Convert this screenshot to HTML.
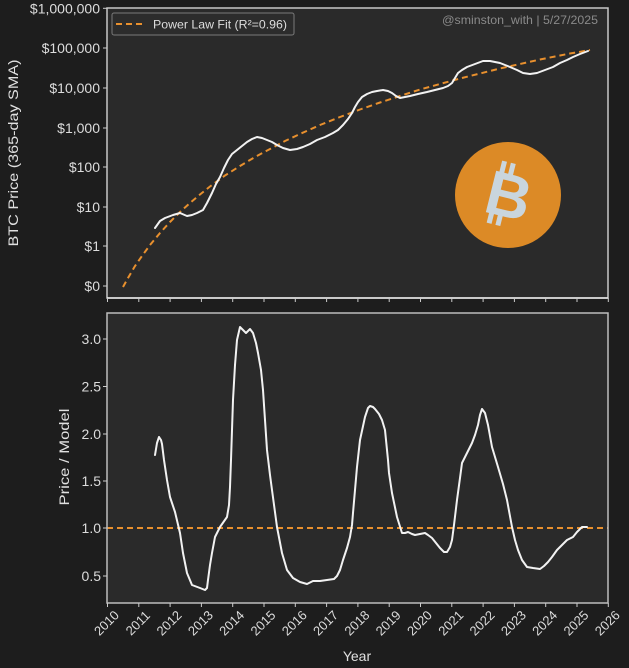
<!DOCTYPE html>
<html>
<head>
<meta charset="utf-8">
<style>
html,body{margin:0;padding:0;background:#1d1d1d;}
svg{display:block;}
text{font-family:"Liberation Sans",sans-serif;}
</style>
</head>
<body>
<svg width="629" height="668" viewBox="0 0 629 668" xmlns="http://www.w3.org/2000/svg">
<rect x="0" y="0" width="629" height="668" fill="#1d1d1d"/>

<!-- ===== TOP PANEL ===== -->
<rect x="107" y="8" width="501" height="290" fill="#2a2a2a"/>

<!-- power law fit -->
<polyline fill="none" stroke="#e8902e" stroke-width="2" stroke-dasharray="6,4"
points="123,287 128,278 135,266 142,256 150,245 160,233 170,222 180,212 190,203 200,194.5 210,186.5 225,175.5 240,166 255,157 270,149 285,141 300,134 320,125 340,117 360,109.5 380,102.5 400,96 420,89.5 440,84 460,78.5 480,73.5 500,68.5 520,64 540,59.5 555,56.5 570,53.5 580,51.8 590,50"/>

<!-- price -->
<polyline fill="none" stroke="#f2f2f2" stroke-width="2" stroke-linejoin="round" stroke-linecap="round"
points="155,228 160,221 165,218 173,215 180,213 187,216 192,215 197,213 203,210 207,203 212,193 216,184 220,177 224,168 228,160 232,154 237,150 242,146 247,142 252,139 257,137 262,138 267,140 272,142 277,145 283,148 290,150 297,149 303,147 310,144 317,140 325,137 333,133 338,130 343,125 348,119 352,113 355,107 358,102 362,97 367,94 372,92 377,91 383,90 388,91 392,93 396,96 400,98 405,97 410,96 418,94 427,92 435,90 443,88 448,86 452,83 455,78 458,73 462,70 467,67 475,64 483,61 490,61 500,63 505,65 510,67 517,70 523,73 530,74 537,73 545,70 553,67 560,63 567,60 573,57 580,54 588,51"/>

<!-- bitcoin logo -->
<circle cx="508" cy="195" r="53" fill="#dc8a26"/>
<g transform="rotate(14 508 195)" fill="#c9d5dd">
  <rect x="494" y="163" width="5" height="12"/>
  <rect x="503" y="163" width="5" height="12"/>
  <rect x="494" y="215" width="5" height="12"/>
  <rect x="503" y="215" width="5" height="12"/>
  <text x="509" y="217" font-size="62" font-weight="bold" text-anchor="middle" fill="#c9d5dd">B</text>
</g>

<!-- legend -->
<rect x="112" y="13" width="182" height="22" rx="2" fill="#2c2c2c" stroke="#7a7a7a" stroke-width="1"/>
<line x1="116" y1="24" x2="146" y2="24" stroke="#e8902e" stroke-width="2" stroke-dasharray="6,4"/>
<text x="153" y="28.5" font-size="12" fill="#dddddd" textLength="134" lengthAdjust="spacingAndGlyphs">Power Law Fit (R²=0.96)</text>

<!-- watermark -->
<text x="598" y="24" font-size="12" fill="#8a8a8a" text-anchor="end" textLength="156" lengthAdjust="spacingAndGlyphs">@sminston_with | 5/27/2025</text>

<!-- frame -->
<rect x="107" y="8" width="501" height="290" fill="none" stroke="#c8c8c8" stroke-width="1.5"/>
<line x1="107" y1="298" x2="608" y2="298" stroke="#e6e6e6" stroke-width="1.5"/>

<!-- top y ticks -->
<g stroke="#cccccc" stroke-width="1">
<line x1="103" y1="8.3" x2="107" y2="8.3"/>
<line x1="103" y1="48" x2="107" y2="48"/>
<line x1="103" y1="88" x2="107" y2="88"/>
<line x1="103" y1="128" x2="107" y2="128"/>
<line x1="103" y1="167" x2="107" y2="167"/>
<line x1="103" y1="207" x2="107" y2="207"/>
<line x1="103" y1="246" x2="107" y2="246"/>
<line x1="103" y1="286" x2="107" y2="286"/>
</g>
<g font-size="14" fill="#dcdcdc" text-anchor="end">
<text x="100" y="13.3">$1,000,000</text>
<text x="100" y="53">$100,000</text>
<text x="100" y="93">$10,000</text>
<text x="100" y="133">$1,000</text>
<text x="100" y="172">$100</text>
<text x="100" y="212">$10</text>
<text x="100" y="251">$1</text>
<text x="100" y="291">$0</text>
</g>
<!-- top x ticks -->
<g stroke="#cccccc" stroke-width="1">
<line x1="107.5" y1="298" x2="107.5" y2="302"/>
<line x1="138.8" y1="298" x2="138.8" y2="302"/>
<line x1="170.1" y1="298" x2="170.1" y2="302"/>
<line x1="201.4" y1="298" x2="201.4" y2="302"/>
<line x1="232.7" y1="298" x2="232.7" y2="302"/>
<line x1="264.0" y1="298" x2="264.0" y2="302"/>
<line x1="295.3" y1="298" x2="295.3" y2="302"/>
<line x1="326.6" y1="298" x2="326.6" y2="302"/>
<line x1="357.9" y1="298" x2="357.9" y2="302"/>
<line x1="389.2" y1="298" x2="389.2" y2="302"/>
<line x1="420.5" y1="298" x2="420.5" y2="302"/>
<line x1="451.8" y1="298" x2="451.8" y2="302"/>
<line x1="483.1" y1="298" x2="483.1" y2="302"/>
<line x1="514.4" y1="298" x2="514.4" y2="302"/>
<line x1="545.7" y1="298" x2="545.7" y2="302"/>
<line x1="577.0" y1="298" x2="577.0" y2="302"/>
<line x1="608.3" y1="298" x2="608.3" y2="302"/>
</g>

<text transform="translate(18 153) rotate(-90)" font-size="14" fill="#e0e0e0" text-anchor="middle" textLength="187" lengthAdjust="spacingAndGlyphs">BTC Price (365-day SMA)</text>

<!-- ===== BOTTOM PANEL ===== -->
<rect x="107" y="313" width="501" height="290" fill="#2a2a2a"/>

<!-- 1.0 reference line -->
<line x1="107" y1="528" x2="608" y2="528" stroke="#e8902e" stroke-width="2" stroke-dasharray="6,4"/>

<!-- ratio -->
<polyline fill="none" stroke="#f2f2f2" stroke-width="2" stroke-linejoin="round" stroke-linecap="round"
points="155,455 157,443 159,437 161,440 162,444 164,460 167,480 170,497 175,512 180,533 183,553 187,573 192,585 200,588 205,590 207,588 208,580 210,565 212,553 215,537 220,527 227,517 229,505 230,487 231,460 233,400 235,365 237,340 240,327 243,330 246,333 250,329 253,333 256,343 258,353 261,370 263,390 265,420 267,450 270,475 272,490 277,527 282,553 287,570 293,578 300,582 307,584 313,581 320,581 327,580 334,579 337,576 340,570 343,560 347,548 350,537 352,525 353,513 355,490 357,467 360,440 365,417 368,408 370,406 373,407 375,409 379,414 382,420 385,430 386,440 388,460 389,473 392,493 397,517 402,533 405,533 408,532 412,534 415,535 420,534 425,533 428,535 432,538 436,543 440,548 444,552 447,552 450,547 452,540 454,525 457,500 460,478 462,463 467,453 472,443 475,435 478,425 480,415 482,409 485,413 488,425 492,447 498,467 503,484 507,500 512,527 515,540 518,550 522,560 527,567 533,568 540,569 544,566 548,562 552,557 557,550 562,545 567,540 573,537 577,532 582,527 587,527"/>

<rect x="107" y="313" width="501" height="290" fill="none" stroke="#bdbdbd" stroke-width="1.5"/>

<!-- bottom y ticks -->
<g stroke="#cccccc" stroke-width="1">
<line x1="103" y1="339" x2="107" y2="339"/>
<line x1="103" y1="386.5" x2="107" y2="386.5"/>
<line x1="103" y1="434" x2="107" y2="434"/>
<line x1="103" y1="481" x2="107" y2="481"/>
<line x1="103" y1="528" x2="107" y2="528"/>
<line x1="103" y1="576" x2="107" y2="576"/>
</g>
<g font-size="14" fill="#dcdcdc" text-anchor="end">
<text x="101" y="344">3.0</text>
<text x="101" y="391.5">2.5</text>
<text x="101" y="439">2.0</text>
<text x="101" y="486">1.5</text>
<text x="101" y="533">1.0</text>
<text x="101" y="581">0.5</text>
</g>

<!-- bottom x ticks -->
<g stroke="#cccccc" stroke-width="1">
<line x1="107.5" y1="603" x2="107.5" y2="607"/>
<line x1="138.8" y1="603" x2="138.8" y2="607"/>
<line x1="170.1" y1="603" x2="170.1" y2="607"/>
<line x1="201.4" y1="603" x2="201.4" y2="607"/>
<line x1="232.7" y1="603" x2="232.7" y2="607"/>
<line x1="264.0" y1="603" x2="264.0" y2="607"/>
<line x1="295.3" y1="603" x2="295.3" y2="607"/>
<line x1="326.6" y1="603" x2="326.6" y2="607"/>
<line x1="357.9" y1="603" x2="357.9" y2="607"/>
<line x1="389.2" y1="603" x2="389.2" y2="607"/>
<line x1="420.5" y1="603" x2="420.5" y2="607"/>
<line x1="451.8" y1="603" x2="451.8" y2="607"/>
<line x1="483.1" y1="603" x2="483.1" y2="607"/>
<line x1="514.4" y1="603" x2="514.4" y2="607"/>
<line x1="545.7" y1="603" x2="545.7" y2="607"/>
<line x1="577.0" y1="603" x2="577.0" y2="607"/>
<line x1="608.3" y1="603" x2="608.3" y2="607"/>
</g>
<g font-size="13" fill="#dcdcdc" text-anchor="middle">
<text transform="translate(106.5 623) rotate(-45)" y="4.5">2010</text>
<text transform="translate(137.8 623) rotate(-45)" y="4.5">2011</text>
<text transform="translate(169.1 623) rotate(-45)" y="4.5">2012</text>
<text transform="translate(200.4 623) rotate(-45)" y="4.5">2013</text>
<text transform="translate(231.7 623) rotate(-45)" y="4.5">2014</text>
<text transform="translate(263.0 623) rotate(-45)" y="4.5">2015</text>
<text transform="translate(294.3 623) rotate(-45)" y="4.5">2016</text>
<text transform="translate(325.6 623) rotate(-45)" y="4.5">2017</text>
<text transform="translate(356.9 623) rotate(-45)" y="4.5">2018</text>
<text transform="translate(388.2 623) rotate(-45)" y="4.5">2019</text>
<text transform="translate(419.5 623) rotate(-45)" y="4.5">2020</text>
<text transform="translate(450.8 623) rotate(-45)" y="4.5">2021</text>
<text transform="translate(482.1 623) rotate(-45)" y="4.5">2022</text>
<text transform="translate(513.4 623) rotate(-45)" y="4.5">2023</text>
<text transform="translate(544.7 623) rotate(-45)" y="4.5">2024</text>
<text transform="translate(576.0 623) rotate(-45)" y="4.5">2025</text>
<text transform="translate(607.3 623) rotate(-45)" y="4.5">2026</text>
</g>

<text x="357" y="661" font-size="14" fill="#e0e0e0" text-anchor="middle">Year</text>
<text transform="translate(69 457) rotate(-90)" font-size="14" fill="#e0e0e0" text-anchor="middle" textLength="97" lengthAdjust="spacingAndGlyphs">Price / Model</text>
</svg>
</body>
</html>
